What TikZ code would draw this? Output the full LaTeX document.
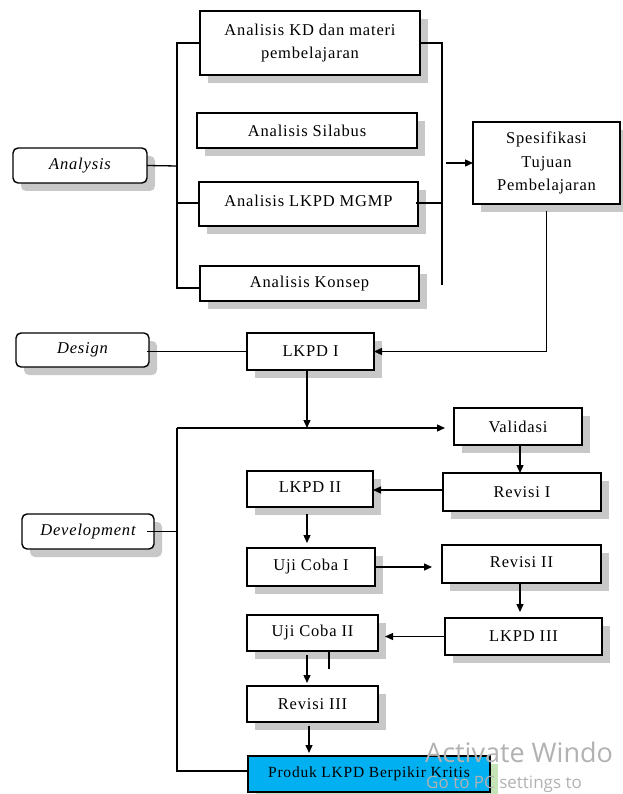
\documentclass[tikz,border=0pt]{standalone}
\usepackage{fontspec}
\setmainfont[LetterSpace=5]{Liberation Serif}
\newfontfamily\wmfont{Open Sans}
\usetikzlibrary{arrows.meta,shadows}
\definecolor{prodblue}{RGB}{0,176,240}
\definecolor{shadowgray}{RGB}{200,200,200}
\definecolor{shadowgreen}{RGB}{196,228,184}
\begin{document}
\begin{tikzpicture}[x=1pt,y=-1pt,
  box/.style={draw, line width=1.4pt, fill=white, inner sep=2pt, outer sep=0pt,
    align=center, font=\fontsize{16.5}{23.5}\selectfont,
    drop shadow={shadow xshift=8pt, shadow yshift=-8pt, fill=shadowgray, opacity=1}},
  phase/.style={box, rounded corners=5pt, font=\fontsize{16.5}{23.5}\selectfont\itshape},
  ln/.style={line width=1.3pt},
  arr/.style={ln, -{Triangle[length=8pt,width=7pt]}}]
\useasboundingbox (0,0) rectangle (622,794);
\fill[white] (0,0) rectangle (622,794);

% Analysis
\node[phase, minimum width=134, minimum height=35] (analysis) at (80,165.5) {Analysis};
\node[box, minimum width=220, minimum height=64] (kd) at (310,43) {Analisis KD dan materi\\pembelajaran};
\node[box, minimum width=220, minimum height=35] (sil) at (307,130.5) {Analisis Silabus};
\node[box, minimum width=219, minimum height=44] (mgmp) at (308.5,204) {\raisebox{7pt}{Analisis LKPD MGMP}};
\node[box, minimum width=219, minimum height=35] (konsep) at (309.5,283.5) {Analisis Konsep};
\node[box, minimum width=147, minimum height=82] (spes) at (546.5,163) {Spesifikasi\\Tujuan\\Pembelajaran};

% Design
\node[phase, minimum width=133, minimum height=34] (design) at (82.5,350) {Design};
\node[box, minimum width=127, minimum height=37] (lkpd1) at (310.5,351.5) {LKPD I};

% Development
\node[phase, minimum width=132, minimum height=35] (devel) at (88,531.5) {Development};
\node[box, minimum width=128, minimum height=37] (valid) at (518,426.5) {Validasi};
\node[box, minimum width=158, minimum height=38] (rev1) at (522,492) {Revisi I};
\node[box, minimum width=126, minimum height=36] (lkpd2) at (310,489) {\raisebox{4pt}{LKPD II}};
\node[box, minimum width=128, minimum height=38] (uji1) at (311,567) {Uji Coba I};
\node[box, minimum width=159, minimum height=38] (rev2) at (521.5,564) {\raisebox{4pt}{Revisi II}};
\node[box, minimum width=157, minimum height=37] (lkpd3) at (523.5,636.5) {LKPD III};
\node[box, minimum width=131, minimum height=36] (uji2) at (312.5,633) {Uji Coba II};
\node[box, minimum width=131, minimum height=36] (rev3) at (312.5,704) {Revisi III};
\node[box, minimum width=242, minimum height=36, fill=prodblue,
  drop shadow={shadow xshift=8pt, shadow yshift=-8pt, fill=shadowgreen, opacity=1},
  font=\fontsize{15.5}{20}\selectfont] (produk) at (369,774) {Produk LKPD Berpikir Kritis};

% Analysis connectors
\coordinate (lb) at (177,166);
\coordinate (rb) at (442,285);
\coordinate (rbm) at (446,163);
\draw[ln] (analysis.east) -- (lb);
\draw[ln] (kd.west) -| (lb) |- ([yshift=-4.5pt]konsep.west);
\draw[ln] ([yshift=1pt]mgmp.west) -- ([yshift=1pt]mgmp.west -| lb);
\draw[ln] (kd.east) -| (rb);
\draw[ln] ([xshift=-2pt,yshift=1pt]mgmp.east) -- ([yshift=1pt]mgmp.east -| rb);
\draw[arr] (rbm) -- (spes.west);
\draw[arr] ([yshift=-7pt]spes.south) |- (lkpd1.east);

% Design connectors
\draw[ln] (lkpd1.west) -- ([xshift=-2pt]lkpd1.west -| design.east);
\coordinate (dv) at (177,428);
\draw[arr] ([xshift=-3.5pt]lkpd1.south) -- ([xshift=-3.5pt]lkpd1.south |- dv);

% Development connectors
\draw[arr, shorten >=9pt] (dv) -- (dv -| valid.west);
\draw[ln] (dv) |- ([yshift=3pt]produk.west);
\draw[ln] ([xshift=-7pt]devel.east) -- (devel.east -| dv);
\draw[arr] ([xshift=2pt]valid.south) -- ([xshift=2pt]valid.south |- rev1.north);
\draw[arr] ([yshift=2pt]rev1.west) -- ([yshift=2pt]rev1.west -| lkpd2.east);
\draw[arr, shorten <=7pt, shorten >=5pt] ([xshift=-3pt]lkpd2.south) -- ([xshift=-3pt]lkpd2.south |- uji1.north);
\draw[arr, shorten >=10pt] (uji1.east) -- (uji1.east -| rev2.west);
\draw[arr, shorten >=6pt] ([xshift=-1.5pt]rev2.south) -- ([xshift=-1.5pt]rev2.south |- lkpd3.north);
\draw[arr, shorten >=7pt] (lkpd3.west) -- (lkpd3.west -| uji2.east);
\draw[arr, shorten <=4pt, shorten >=3pt] ([xshift=-5.5pt]uji2.south) -- ([xshift=-5.5pt]uji2.south |- rev3.north);
\draw[line width=2.6pt] ([xshift=16.5pt]uji2.south) -- ++(0,18);
\draw[arr, shorten <=4pt, shorten >=3pt] ([xshift=-3.5pt]rev3.south) -- ([xshift=-3.5pt]rev3.south |- produk.north);

% watermark
\node[anchor=base west, inner sep=0, text=black!30, font=\wmfont\fontsize{27}{27}\selectfont] (wm1) at (425,762) {Activate Windo};
\node[anchor=base west, inner sep=0, text=black!30, font=\wmfont\fontsize{17}{17}\selectfont] (wm2) at (426,788) {Go to PC settings to};
\end{tikzpicture}
\end{document}
